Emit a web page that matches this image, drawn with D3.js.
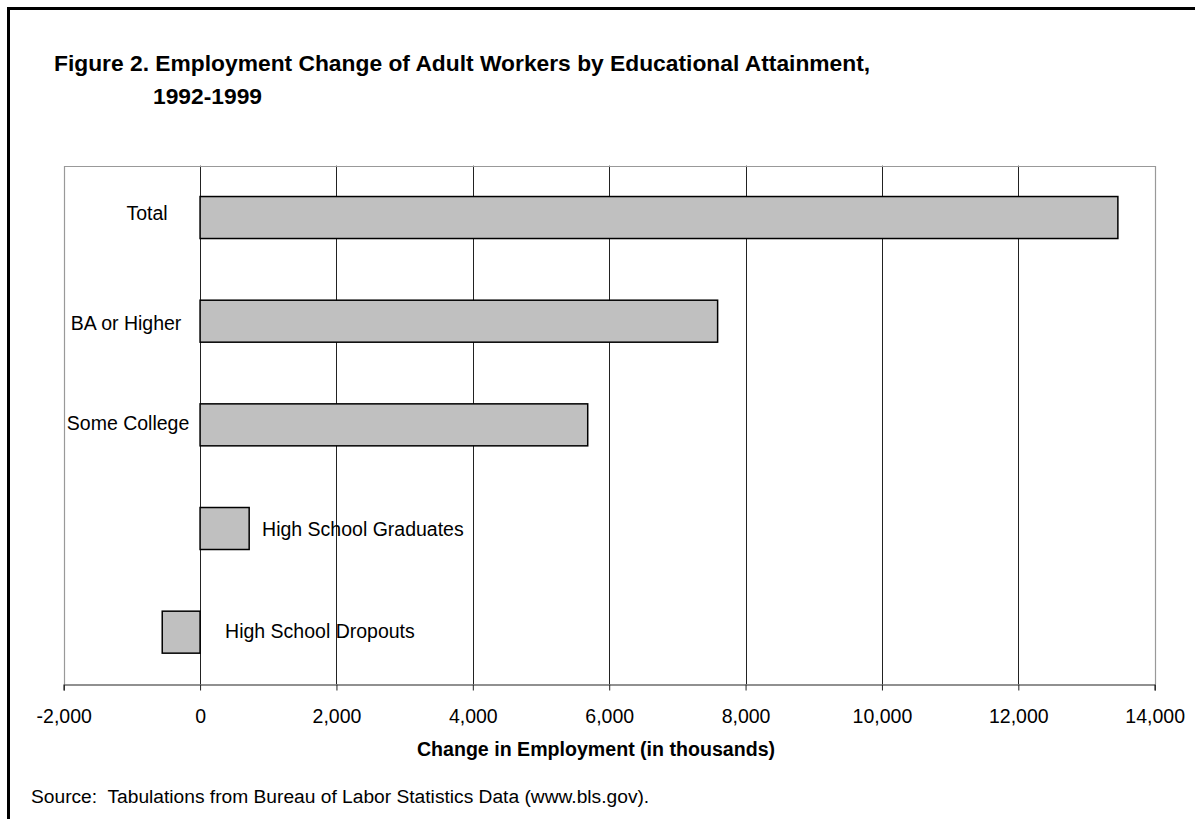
<!DOCTYPE html>
<html>
<head>
<meta charset="utf-8">
<script src="https://cdn.jsdelivr.net/npm/d3@7"></script>
<style>
  body { margin: 0; background: #fff; }
  svg text { font-family: "Liberation Sans", Arial, sans-serif; fill: #000; white-space: pre; }
</style>
</head>
<body>
<svg id="chart" width="1195" height="819"></svg>
<script>
// data (thousands)
var categories = ["Total", "BA or Higher", "Some College", "High School Graduates", "High School Dropouts"];
var changes = [13460, 7590, 5685, 720, -555];
var tickValues = [-2000, 0, 2000, 4000, 6000, 8000, 10000, 12000, 14000];

var titleLines = ["Figure 2. Employment Change of Adult Workers by Educational Attainment,", "1992-1999"];
var axisTitle = "Change in Employment (in thousands)";
var sourceNote = "Source:  Tabulations from Bureau of Labor Statistics Data (www.bls.gov).";

// label placement, relative to the zero line (hand placed in the original)
var labelLayout = [
  { dx: -53, anchor: "middle", dy: 2 },
  { dx: -74, anchor: "middle", dy: 9 },
  { dx: -72, anchor: "middle", dy: 5 },
  { dx: 62, anchor: "start", dy: 7 },
  { dx: 25, anchor: "start", dy: 6 }
];

var plot = { left: 63.7, right: 1154.7, top: 165.7, bottom: 684 };

var svg = d3.select("#chart");

// outer frame (only top and left edges fall inside the picture)
svg.append("rect")
    .attr("x", 8.5).attr("y", 8.5)
    .attr("width", 1300).attr("height", 900)
    .attr("fill", "none").attr("stroke", "#000").attr("stroke-width", 3);

var x = d3.scaleLinear().domain([-2000, 14000]).range([plot.left, plot.right]);
var y = d3.scaleBand().domain(categories).range([plot.top, plot.bottom])
    .paddingInner(0.595).paddingOuter(0.2975);

// gridlines
svg.append("g").selectAll("line")
    .data(tickValues.slice(1, -1))
    .enter().append("line")
    .attr("x1", function(d){ return Math.round(x(d)) + 0.5; })
    .attr("x2", function(d){ return Math.round(x(d)) + 0.5; })
    .attr("y1", plot.top).attr("y2", plot.bottom)
    .attr("stroke", "#222").attr("stroke-width", 1);

// plot area border (top, left, right)
svg.append("path")
    .attr("d", "M" + (Math.round(plot.left) + 0.5) + "," + plot.bottom +
               "V" + (Math.round(plot.top) + 0.5) +
               "H" + (Math.round(plot.right) + 0.5) +
               "V" + plot.bottom)
    .attr("fill", "none").attr("stroke", "#999").attr("stroke-width", 1.2);

// bars
svg.append("g").selectAll("rect")
    .data(categories)
    .enter().append("rect")
    .attr("x", function(d, i){ return x(Math.min(0, changes[i])); })
    .attr("y", function(d){ return y(d); })
    .attr("width", function(d, i){ return Math.abs(x(changes[i]) - x(0)); })
    .attr("height", y.bandwidth())
    .attr("fill", "#c0c0c0").attr("stroke", "#000").attr("stroke-width", 1.5);

// category labels
svg.append("g").selectAll("text")
    .data(categories)
    .enter().append("text")
    .attr("x", function(d, i){ return x(0) + labelLayout[i].dx; })
    .attr("y", function(d, i){ return y(d) + y.bandwidth() / 2 + labelLayout[i].dy; })
    .attr("text-anchor", function(d, i){ return labelLayout[i].anchor; })
    .style("font-size", "19.5px")
    .text(function(d){ return d; });

// x axis
var comma = d3.format(",");
var xAxis = d3.axisBottom(x)
    .tickValues(tickValues)
    .tickSize(6)
    .tickPadding(0)
    .tickFormat(function(d){ return comma(d).replace("\u2212", "-"); });
var gx = svg.append("g")
    .attr("transform", "translate(0," + (plot.bottom + 0.5) + ")")
    .call(xAxis);
gx.select(".domain").attr("stroke", "#222").attr("stroke-width", 1.2);
gx.selectAll(".tick line").attr("stroke", "#222");
gx.selectAll(".tick text")
    .attr("y", 38).attr("dy", null)
    .style("font-size", "19.5px")
    .style("font-family", "'Liberation Sans', Arial, sans-serif")
    .attr("fill", "#000");

// axis title
svg.append("text")
    .attr("x", 596)
    .attr("y", 756)
    .attr("text-anchor", "middle")
    .style("font-size", "19.6px").style("font-weight", "bold")
    .text(axisTitle);

// chart title
svg.append("text")
    .attr("x", 54).attr("y", 71)
    .style("font-size", "22.8px").style("font-weight", "bold")
    .text(titleLines[0]);
svg.append("text")
    .attr("x", 153).attr("y", 103.5)
    .style("font-size", "22.8px").style("font-weight", "bold")
    .text(titleLines[1]);

// source
svg.append("text")
    .attr("x", 31).attr("y", 803)
    .style("font-size", "19.2px")
    .text(sourceNote);
</script>
</body>
</html>
